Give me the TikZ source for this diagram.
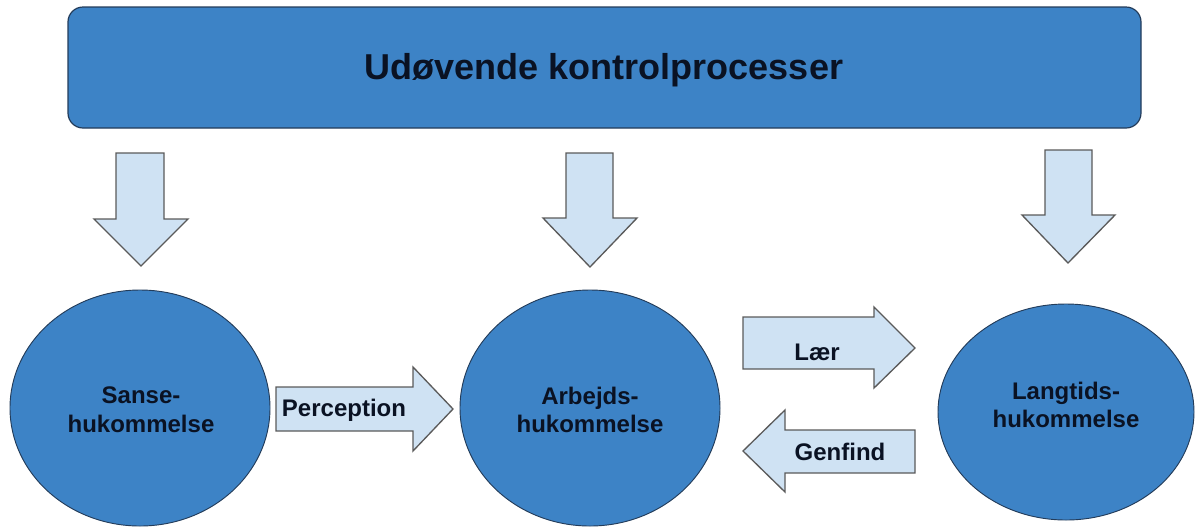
\documentclass[tikz,border=0pt]{standalone}
\usepackage{fontspec}
\setmainfont{Liberation Sans}
\usetikzlibrary{shapes.geometric}
\definecolor{mainblue}{RGB}{61,131,198}
\definecolor{edgeblue}{RGB}{35,60,90}
\definecolor{lightblue}{RGB}{207,226,243}
\definecolor{arrowedge}{RGB}{90,90,90}
\definecolor{textnavy}{RGB}{10,18,35}
\begin{document}
\begin{tikzpicture}[x=0.75pt,y=-0.75pt,
  bigbox/.style={draw=edgeblue,line width=0.9pt,fill=mainblue,rounded corners=15*0.75pt},
  memory/.style={ellipse,draw=edgeblue,line width=0.7pt,fill=mainblue,inner sep=0pt},
  blockarrow/.style={draw=arrowedge,line width=1pt,fill=lightblue,line join=miter},
  lbl/.style={font=\fontsize{18}{21.5}\selectfont\bfseries,text=textnavy,align=center,inner sep=0pt},
  ttl/.style={font=\fontsize{27}{32}\selectfont\bfseries,text=textnavy,inner sep=0pt}]
\useasboundingbox (0,0) rectangle (1195,526);
% top box
\draw[bigbox] (68,7) rectangle (1141,128);
\node[ttl] (top) at (604,70) {Udøvende kontrolprocesser};
% down arrows
\draw[blockarrow] (116,153) -- (164,153) -- (164,219) -- (188,219) -- (141,266) -- (94,219) -- (116,219) -- cycle;
\draw[blockarrow] (566,153) -- (613,153) -- (613,218) -- (637,218) -- (590,267) -- (543,218) -- (566,218) -- cycle;
\draw[blockarrow] (1045,150) -- (1092,150) -- (1092,215) -- (1115,215) -- (1068,263) -- (1022,215) -- (1045,215) -- cycle;
% memories
\node[memory,minimum width=260*0.75pt,minimum height=236*0.75pt] (sanse) at (140,408) {};
\node[lbl] (sansetxt) at (141,410) {Sanse-\\hukommelse};
\node[memory,minimum width=260*0.75pt,minimum height=236*0.75pt] (arbejd) at (590,408) {};
\node[lbl] (arbejdtxt) at (590,410) {Arbejds-\\hukommelse};
\node[memory,minimum width=256*0.75pt,minimum height=216*0.75pt] (lang) at (1066,412) {};
\node[lbl] (langtxt) at (1066,405) {Langtids-\\hukommelse};
% horizontal block arrows
\draw[blockarrow] (276,387) -- (413,387) -- (413,367) -- (453,409) -- (413,451) -- (413,431) -- (276,431) -- cycle;
\node[lbl] (perc) at (344,410) {Perception};
\draw[blockarrow] (743,317) -- (874,317) -- (874,307) -- (915,348) -- (874,388) -- (874,369) -- (743,369) -- cycle;
\node[lbl] (laer) at (817,352) {Lær};
\draw[blockarrow] (915,430) -- (785,430) -- (785,410) -- (743,451) -- (785,492) -- (785,473) -- (915,473) -- cycle;
\node[lbl] (genfind) at (840,452) {Genfind};
\end{tikzpicture}
\end{document}
